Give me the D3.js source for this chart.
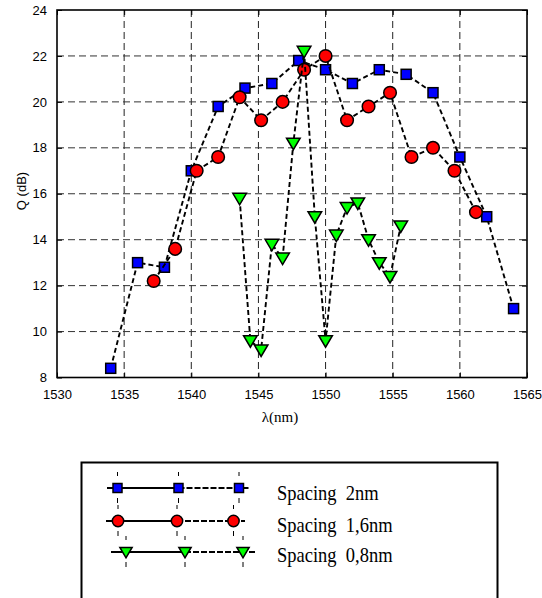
<!DOCTYPE html>
<html>
<head>
<meta charset="utf-8">
<script src="https://cdn.jsdelivr.net/npm/d3@7"></script>
<style>
  body { margin: 0; background: #fff; }
  svg { display: block; }
</style>
</head>
<body>
<div id="chart"></div>
<script>
// wavelength (nm) and Q (dB) for each channel spacing
var lambda2 = [1534, 1536, 1538, 1540, 1542, 1544, 1546, 1548, 1550, 1552, 1554, 1556, 1558, 1560, 1562, 1564];
var q2 = [8.4, 13.0, 12.8, 17.0, 19.8, 20.6, 20.8, 21.8, 21.4, 20.8, 21.4, 21.2, 20.4, 17.6, 15.0, 11.0];
var lambda16 = [1537.2, 1538.8, 1540.4, 1542, 1543.6, 1545.2, 1546.8, 1548.4, 1550, 1551.6, 1553.2, 1554.8, 1556.4, 1558, 1559.6, 1561.2];
var q16 = [12.2, 13.6, 17.0, 17.6, 20.2, 19.2, 20.0, 21.4, 22.0, 19.2, 19.8, 20.4, 17.6, 18.0, 17.0, 15.2];
var lambda08 = [1543.6, 1544.4, 1545.2, 1546.0, 1546.8, 1547.6, 1548.4, 1549.2, 1550.0, 1550.8, 1551.6, 1552.4, 1553.2, 1554.0, 1554.8, 1555.6];
var q08 = [15.8, 9.6, 9.2, 13.8, 13.2, 18.2, 22.2, 15.0, 9.6, 14.2, 15.4, 15.6, 14.0, 13.0, 12.4, 14.6];
var xTicks = [1530, 1535, 1540, 1545, 1550, 1555, 1560, 1565];
var yTicks = [8, 10, 12, 14, 16, 18, 20, 22, 24];
var legendLabels = ['Spacing  2nm', 'Spacing  1,6nm', 'Spacing  0,8nm'];

var WIDTH = 542;
var HEIGHT = 598;
var PLOT = { left: 57, top: 10, right: 527, bottom: 377.5 };
var TICK_LEN = 5;
var SANS = '"Liberation Sans", Arial, sans-serif';
var SERIF = '"Liberation Serif", "Times New Roman", serif';

var series = [
  { x: lambda2, y: q2, shape: 'square', fill: '#0000ff' },
  { x: lambda16, y: q16, shape: 'circle', fill: '#ff0000' },
  { x: lambda08, y: q08, shape: 'triangle', fill: '#00ff00' }
];

var svg = d3.select('#chart').append('svg')
  .attr('width', WIDTH)
  .attr('height', HEIGHT);

var xScale = d3.scaleLinear().domain([1530, 1565]).range([PLOT.left, PLOT.right]);
var yScale = d3.scaleLinear().domain([8, 24]).range([PLOT.bottom, PLOT.top]);

/** draw one marker of a given shape into a selection */
function drawMarker(g, shape, fill, size) {
  var s = size || 1;
  if (shape === 'square') {
    g.append('rect')
      .attr('x', -5 * s).attr('y', -5 * s)
      .attr('width', 10 * s).attr('height', 10 * s)
      .attr('fill', fill).attr('stroke', '#000').attr('stroke-width', 1.5);
  } else if (shape === 'circle') {
    g.append('circle')
      .attr('r', 6.3 * s)
      .attr('fill', fill).attr('stroke', '#000').attr('stroke-width', 1.5);
  } else {
    g.append('path')
      .attr('d', 'M' + (-6.8 * s) + ',' + (-5 * s) + 'L' + (6.8 * s) + ',' + (-5 * s) + 'L0,' + (6.5 * s) + 'Z')
      .attr('fill', fill).attr('stroke', '#000').attr('stroke-width', 1.5)
      .attr('stroke-linejoin', 'miter');
  }
}

// grid
var grid = svg.append('g').attr('class', 'grid');
grid.selectAll('line.gx').data(xTicks.slice(1, -1)).enter().append('line')
  .attr('class', 'gx')
  .attr('x1', function (d) { return xScale(d); })
  .attr('x2', function (d) { return xScale(d); })
  .attr('y1', PLOT.top).attr('y2', PLOT.bottom)
  .attr('stroke', '#222').attr('stroke-width', 1)
  .attr('stroke-dasharray', '7,4');
grid.selectAll('line.gy').data(yTicks.slice(1, -1)).enter().append('line')
  .attr('class', 'gy')
  .attr('y1', function (d) { return yScale(d); })
  .attr('y2', function (d) { return yScale(d); })
  .attr('x1', PLOT.left).attr('x2', PLOT.right)
  .attr('stroke', '#333').attr('stroke-width', 1)
  .attr('stroke-dasharray', '7,4');

// axes, ticks pointing inward on all four sides
var fontAttrs = function (g) {
  g.attr('font-family', SANS).attr('font-size', 13);
  g.select('.domain').remove();
  g.selectAll('.tick line').attr('stroke', '#000').attr('stroke-width', 1);
};
svg.append('g')
  .attr('transform', 'translate(0,' + PLOT.bottom + ')')
  .call(d3.axisBottom(xScale).tickValues(xTicks).tickSize(-TICK_LEN).tickPadding(TICK_LEN + 7).tickFormat(d3.format('d')))
  .call(fontAttrs)
  .selectAll('text').attr('fill', '#000');
svg.append('g')
  .attr('transform', 'translate(0,' + PLOT.top + ')')
  .call(d3.axisTop(xScale).tickValues(xTicks).tickSize(-TICK_LEN).tickFormat(''))
  .call(fontAttrs);
svg.append('g')
  .attr('transform', 'translate(' + PLOT.left + ',0)')
  .call(d3.axisLeft(yScale).tickValues(yTicks).tickSize(-TICK_LEN).tickPadding(TICK_LEN + 5).tickFormat(d3.format('d')))
  .call(fontAttrs)
  .selectAll('text').attr('fill', '#000');
svg.append('g')
  .attr('transform', 'translate(' + PLOT.right + ',0)')
  .call(d3.axisRight(yScale).tickValues(yTicks).tickSize(-TICK_LEN).tickFormat(''))
  .call(fontAttrs);

svg.append('rect')
  .attr('x', PLOT.left).attr('y', PLOT.top)
  .attr('width', PLOT.right - PLOT.left).attr('height', PLOT.bottom - PLOT.top)
  .attr('fill', 'none').attr('stroke', '#000').attr('stroke-width', 1.6);

// series: dashed line then markers, in order
var line = d3.line()
  .x(function (d) { return xScale(d[0]); })
  .y(function (d) { return yScale(d[1]); });
series.forEach(function (s) {
  var pts = s.x.map(function (x, i) { return [x, s.y[i]]; });
  var g = svg.append('g');
  g.append('path')
    .attr('d', line(pts))
    .attr('fill', 'none').attr('stroke', '#000').attr('stroke-width', 1.9)
    .attr('stroke-dasharray', '5,3');
  g.selectAll('g.mk').data(pts).enter().append('g')
    .attr('class', 'mk')
    .attr('transform', function (d) { return 'translate(' + xScale(d[0]) + ',' + yScale(d[1]) + ')'; })
    .each(function () { drawMarker(d3.select(this), s.shape, s.fill); });
});

// axis titles
svg.append('text')
  .attr('transform', 'translate(26,191) rotate(-90)')
  .attr('text-anchor', 'middle')
  .attr('font-family', SANS).attr('font-size', 13)
  .text('Q (dB)');
svg.append('text')
  .attr('x', 280).attr('y', 422)
  .attr('text-anchor', 'middle')
  .attr('font-family', SERIF).attr('font-size', 15)
  .text('\u03bb(nm)');

// legend box (runs past the bottom of the picture)
var legend = svg.append('g');
legend.append('rect')
  .attr('x', 81.5).attr('y', 462.5)
  .attr('width', 416).attr('height', 160)
  .attr('fill', '#fff').attr('stroke', '#000').attr('stroke-width', 2);

var legendRows = [
  { y: 488, xs: [117.5, 178.5, 239], x0: 107, x1: 250, ty: 500 },
  { y: 521, xs: [118, 177, 233.5], x0: 106, x1: 245, ty: 532 },
  { y: 552, xs: [126, 185, 243], x0: 111, x1: 255, ty: 562 }
];
legendRows.forEach(function (r, i) {
  var s = series[i];
  var g = legend.append('g');
  g.append('line')
    .attr('x1', r.x0).attr('x2', r.xs[1]).attr('y1', r.y).attr('y2', r.y)
    .attr('stroke', '#000').attr('stroke-width', 2.2);
  g.append('line')
    .attr('x1', r.xs[1]).attr('x2', r.x1).attr('y1', r.y).attr('y2', r.y)
    .attr('stroke', '#000').attr('stroke-width', 2.2).attr('stroke-dasharray', '6,2');
  r.xs.forEach(function (x) {
    g.append('line')
      .attr('x1', x).attr('x2', x).attr('y1', r.y - 16).attr('y2', r.y - 12)
      .attr('stroke', '#000').attr('stroke-width', 1);
    g.append('line')
      .attr('x1', x).attr('x2', x).attr('y1', r.y + 10).attr('y2', r.y + 15)
      .attr('stroke', '#000').attr('stroke-width', 1);
    var m = g.append('g').attr('transform', 'translate(' + x + ',' + r.y + ')');
    drawMarker(m, s.shape, s.fill, 0.9);
  });
  g.append('text')
    .attr('transform', 'translate(277,' + r.ty + ') scale(1,1.12)')
    .attr('font-family', SERIF).attr('font-size', 18.5)
    .attr('xml:space', 'preserve')
    .style('white-space', 'pre')
    .text(legendLabels[i]);
});
</script>
</body>
</html>
